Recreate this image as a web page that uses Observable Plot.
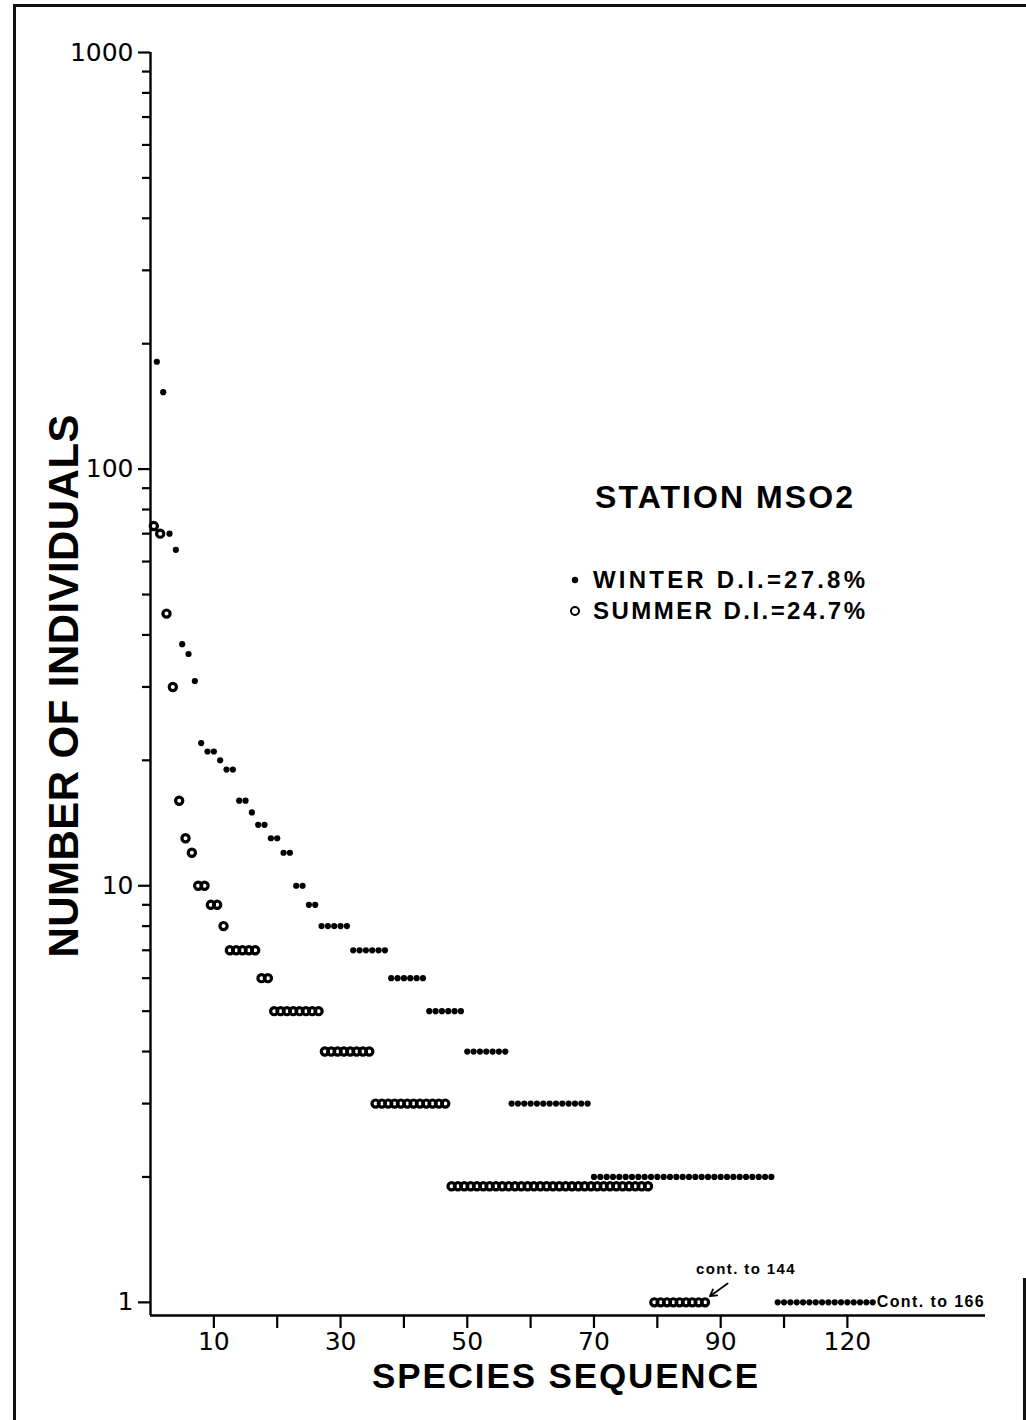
<!DOCTYPE html>
<html>
<head>
<meta charset="utf-8">
<script src="https://cdn.jsdelivr.net/npm/d3@7"></script>
<script src="https://cdn.jsdelivr.net/npm/@observablehq/plot@0.6"></script>
<style>
  html, body { margin: 0; padding: 0; background: #fff; }
  #page { position: relative; width: 1026px; height: 1420px; overflow: hidden; background: #fff; }
  #chart { position: absolute; left: 0; top: 0; }
  #overlay { position: absolute; left: 0; top: 0; pointer-events: none; }
  .edge { position: absolute; background: #111; }
  .note text { letter-spacing: 1.4px; }
  #overlay text { font-family: "Liberation Sans", Arial, sans-serif; font-weight: bold; fill: #000; }
</style>
</head>
<body>
<div id="page">
  <div id="chart"></div>
  <svg id="overlay" width="1026" height="1420">
    <text x="78" y="686" transform="rotate(-90 78 686)" text-anchor="middle" font-size="42" textLength="543" lengthAdjust="spacing">NUMBER OF INDIVIDUALS</text>
    <text x="565" y="1388" text-anchor="middle" font-size="35" textLength="386" lengthAdjust="spacing">SPECIES SEQUENCE</text>
    <text x="595" y="508" font-size="32" textLength="258" lengthAdjust="spacing">STATION MSO2</text>
    <circle cx="575" cy="580" r="3.2" fill="#000"></circle>
    <text x="593" y="588" font-size="24" textLength="272" lengthAdjust="spacing">WINTER D.I.=27.8%</text>
    <circle cx="575" cy="611" r="4" fill="none" stroke="#000" stroke-width="2"></circle>
    <text x="593" y="619" font-size="24" textLength="272" lengthAdjust="spacing">SUMMER D.I.=24.7%</text>
  </svg>
  <div class="edge" style="left:13px;top:4px;width:1013px;height:3px"></div>
  <div class="edge" style="left:13px;top:4px;width:3px;height:1416px"></div>
  <div class="edge" style="left:1023px;top:1278px;width:3px;height:142px"></div>
</div>
<script>
// Number of individuals per species, ranked from most to least abundant.
const winterCounts = [
  181, 153, 70, 64, 38, 36, 31, 22, 21, 21, 20, 19, 19, 16, 16, 15, 14, 14, 13, 13, 12, 12, 10, 10, 9, 9,
  8, 8, 8, 8, 8,
  7, 7, 7, 7, 7, 7,
  6, 6, 6, 6, 6, 6,
  5, 5, 5, 5, 5, 5,
  4, 4, 4, 4, 4, 4, 4,
  3, 3, 3, 3, 3, 3, 3, 3, 3, 3, 3, 3, 3,
  2, 2, 2, 2, 2, 2, 2, 2, 2, 2, 2, 2, 2, 2, 2, 2, 2, 2, 2, 2, 2, 2, 2, 2, 2, 2, 2, 2, 2,
  1, 1, 1, 1, 1, 1, 1, 1, 1, 1, 1, 1, 1, 1, 1, 1
];
const summerCounts = [
  73, 70, 45, 30, 16, 13, 12, 10, 10, 9, 9, 8,
  7, 7, 7, 7, 7,
  6, 6,
  5, 5, 5, 5, 5, 5, 5, 5,
  4, 4, 4, 4, 4, 4, 4, 4,
  3, 3, 3, 3, 3, 3, 3, 3, 3, 3, 3, 3,
  1.9, 1.9, 1.9, 1.9, 1.9, 1.9, 1.9, 1.9, 1.9, 1.9, 1.9, 1.9, 1.9, 1.9, 1.9, 1.9,
  1.9, 1.9, 1.9, 1.9, 1.9, 1.9, 1.9, 1.9, 1.9, 1.9, 1.9, 1.9, 1.9, 1.9, 1.9, 1.9,
  1, 1, 1, 1, 1, 1, 1, 1, 1
];

// Axis ticks and labels
const yMajorTicks = [1, 10, 100, 1000];
const yMinorTicks = [2, 3, 4, 5, 6, 7, 8, 9, 20, 30, 40, 50, 60, 70, 80, 90, 200, 300, 400, 500, 600, 700, 800, 900];
const xTicks = [10, 20, 30, 40, 50, 60, 70, 80, 90, 100, 110];
const xTickLabels = ["10", "", "30", "", "50", "", "70", "", "90", "", "120"];
const xDomain = [0, 131.8];
const yDomain = [0.93, 1000];

// Continuation notes for the long tails
const winterNote = "Cont. to 166";
const summerNote = "cont. to 144";
const summerArrow = [{x1: 91.1, y1: 1.11, x2: 88.3, y2: 1.035}];

const winter = winterCounts.map((n, i) => ({species: i + 1, count: n}));
const summer = summerCounts.map((n, i) => ({species: i + 1, count: n}));
const xLabelFor = new Map(xTicks.map((t, i) => [t, xTickLabels[i]]));

const tickFont = "'DejaVu Sans', Arial, sans-serif";

const chart = Plot.plot({
  width: 1026,
  height: 1420,
  marginLeft: 150,
  marginRight: 41,
  marginTop: 52,
  marginBottom: 105,
  style: {fontFamily: "'Liberation Sans', Arial, sans-serif", background: "transparent", color: "#000"},
  x: {domain: xDomain, label: null},
  y: {type: "log", domain: yDomain, label: null},
  marks: [
    Plot.axisY(yMajorTicks, {tickSize: 12, tickPadding: 5, fontSize: 25, fontFamily: tickFont, strokeWidth: 2.2, label: null, tickFormat: d => String(d)}),
    Plot.axisY(yMinorTicks, {tickSize: 8, strokeWidth: 2.2, label: null, tickFormat: () => ""}),
    Plot.axisX(xTicks, {tickSize: 13, tickPadding: 4, fontSize: 25, fontFamily: tickFont, strokeWidth: 2.2, label: null, tickFormat: d => xLabelFor.get(d)}),
    Plot.ruleX([xDomain[0]], {strokeWidth: 2.4}),
    Plot.ruleY([yDomain[0]], {strokeWidth: 2.4}),
    Plot.dot(winter, {x: "species", y: "count", r: 3.1, fill: "#000", stroke: null}),
    Plot.dot(summer, {x: "species", y: "count", r: 3.6, fill: "none", stroke: "#000", strokeWidth: 3.2, dx: -3}),
    Plot.text([winter[winter.length - 1]], {
      x: "species", y: "count", text: () => winterNote, textAnchor: "start", dx: 4,
      fontSize: 16, fontWeight: "bold", className: "note"
    }),
    Plot.text([summer[summer.length - 1]], {
      x: "species", y: "count", text: () => summerNote, dx: 38, dy: -33,
      fontSize: 15, fontWeight: "bold", className: "note"
    }),
    Plot.arrow(summerArrow, {x1: "x1", y1: "y1", x2: "x2", y2: "y2", strokeWidth: 1.8, headLength: 7})
  ]
});
document.getElementById("chart").appendChild(chart);
</script>
</body>
</html>
